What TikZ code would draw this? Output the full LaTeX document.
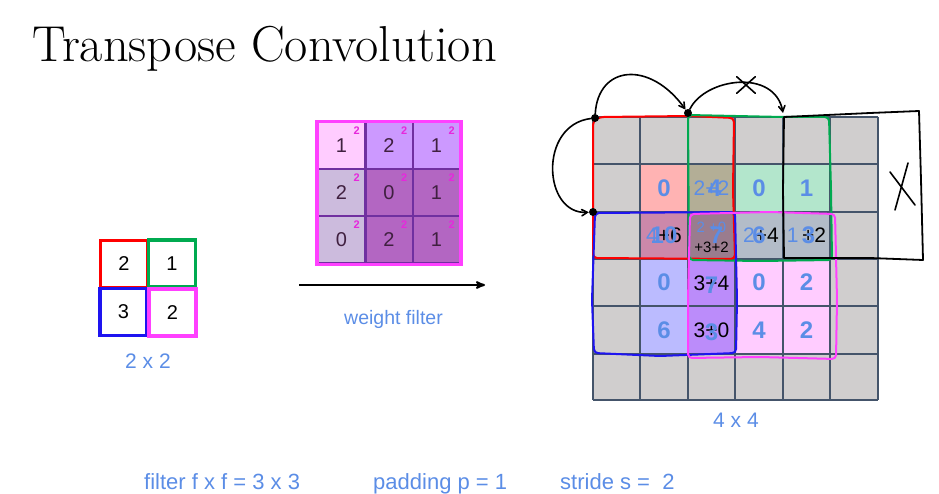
\documentclass[tikz,border=0pt]{standalone}
\usepackage{fontspec}
\setsansfont{Liberation Sans}
\usepackage{xcolor}
\usepackage{tikz}
\usetikzlibrary{shapes, arrows}

\definecolor{slideblue}{RGB}{91,141,230}
\definecolor{gridline}{RGB}{68,84,106}
\definecolor{cellgrey}{RGB}{208,206,206}
\definecolor{cellsalmon}{RGB}{255,179,179}
\definecolor{cellolive}{RGB}{179,174,150}
\definecolor{cellmint}{RGB}{179,230,204}
\definecolor{cellmauve}{RGB}{204,136,170}
\definecolor{cellplum}{RGB}{154,124,142}
\definecolor{cellsteel}{RGB}{179,188,200}
\definecolor{celllavender}{RGB}{187,187,255}
\definecolor{cellviolet}{RGB}{187,140,250}
\definecolor{cellblush}{RGB}{255,204,255}
\definecolor{filterlilac}{RGB}{204,153,255}
\definecolor{filterheather}{RGB}{204,187,221}
\definecolor{filterorchid}{RGB}{179,102,194}
\definecolor{filterline}{RGB}{112,48,160}
\definecolor{filterdigit}{RGB}{64,32,64}
\definecolor{penred}{RGB}{255,0,0}
\definecolor{pengreen}{RGB}{0,170,80}
\definecolor{penblue}{RGB}{30,20,240}
\definecolor{penpink}{RGB}{255,64,255}
\definecolor{supink}{RGB}{230,40,220}

\begin{document}
\begin{tikzpicture}[x=1pt,y=-1pt,>=stealth',
      in node/.style={rectangle,draw,line width=3.3pt,minimum size=47pt,inner sep=0pt,
        font=\sffamily\fontsize{20}{20}\selectfont},
      sup node/.style={anchor=north east,xshift=-5pt,yshift=-4pt,inner sep=1pt,
        text=supink,font=\sffamily\bfseries\fontsize{11}{11}\selectfont},
      filter node/.style={rectangle,draw=filterline,line width=2pt,minimum size=47pt,inner sep=0pt,
        text=filterdigit,font=\sffamily\fontsize{20}{20}\selectfont,label={[sup node]north east:2}},
      grid node/.style={rectangle,minimum width=47.5pt,minimum height=47.3pt,inner sep=0pt},
      big num/.style={font=\sffamily\bfseries\fontsize{24}{24}\selectfont,text=slideblue,inner sep=0pt},
      sum num/.style={font=\sffamily\fontsize{21}{21}\selectfont,inner sep=0pt},
      small num/.style={font=\sffamily\fontsize{15}{15}\selectfont,inner sep=0pt},
      caption/.style={font=\sffamily\fontsize{21}{21}\selectfont,text=slideblue,anchor=base,inner sep=0pt},
      pen/.style={line width=2pt,rounded corners=4pt,line join=round},
      ink/.style={line width=1.6pt,line cap=round},
      dot/.style={circle,fill,inner sep=0pt,minimum size=8pt}]
    \useasboundingbox (0,0) rectangle (939,494);

    \node[anchor=base west,inner sep=0pt,font=\fontsize{50.5}{50.5}\selectfont] (title) at (32,62) {Transpose Convolution};

    % input 2 x 2
    \node[in node,draw=penred] (i1) at (124,264) {2};
    \node[in node,draw=pengreen] (i2) at (172,263.5) {1};
    \node[in node,draw=penblue] (i3) at (123.5,312) {3};
    \node[in node,draw=penpink] (i4) at (172.5,312.5) {2};
    \node[caption] (insize) at (148,368) {2 x 2};

    % filter 3 x 3
    \node[filter node,fill=cellblush] (f1) at (341.5,146) {1};
    \node[filter node,fill=filterlilac] (f2) at (389,146) {2};
    \node[filter node,fill=filterlilac] (f3) at (436.5,146) {1};
    \node[filter node,fill=filterheather] (f4) at (341.5,193) {2};
    \node[filter node,fill=filterorchid] (f5) at (389,193) {0};
    \node[filter node,fill=filterorchid] (f6) at (436.5,193) {1};
    \node[filter node,fill=filterheather] (f7) at (341.5,240) {0};
    \node[filter node,fill=filterorchid] (f8) at (389,240) {2};
    \node[filter node,fill=filterorchid] (f9) at (436.5,240) {1};
    \draw[penpink,line width=3.5pt] (f1.north west) rectangle (f9.south east);

    \coordinate (wf start) at (299,285);
    \coordinate (wf end) at (485,285);
    \draw[->,line width=2pt] (wf start) -- (wf end);
    \node[caption,font=\sffamily\fontsize{19.5}{19.5}\selectfont] (wf label) at (393.5,324) {weight filter};

    % output grid
    \fill[cellgrey] (592.7,117) rectangle (877.7,400);
    \node[grid node,fill=cellsalmon] (g11) at (664,188) {};
    \node[grid node,fill=cellolive] (g12) at (711.5,188) {};
    \node[grid node,fill=cellmint] (g13) at (759,188) {};
    \node[grid node,fill=cellmint] (g14) at (806.5,188) {};
    \node[grid node,fill=cellmauve] (g21) at (664,235.3) {};
    \node[grid node,fill=cellplum] (g22) at (711.5,235.3) {};
    \node[grid node,fill=cellsteel] (g23) at (759,235.3) {};
    \node[grid node,fill=cellsteel] (g24) at (806.5,235.3) {};
    \node[grid node,fill=celllavender] (g31) at (664,282.6) {};
    \node[grid node,fill=cellviolet] (g32) at (711.5,282.6) {};
    \node[grid node,fill=cellblush] (g33) at (759,282.6) {};
    \node[grid node,fill=cellblush] (g34) at (806.5,282.6) {};
    \node[grid node,fill=celllavender] (g41) at (664,329.9) {};
    \node[grid node,fill=cellviolet] (g42) at (711.5,329.9) {};
    \node[grid node,fill=cellblush] (g43) at (759,329.9) {};
    \node[grid node,fill=cellblush] (g44) at (806.5,329.9) {};
    \foreach \gx in {592.7,640.2,687.7,735.2,782.7,830.2,877.7}
      \draw[gridline,line width=2pt] (\gx,117) -- (\gx,400);
    \foreach \gy in {117,164.3,211.6,258.9,306.2,353.5,400}
      \draw[gridline,line width=2pt] (592.7,\gy) -- (877.7,\gy);

    % hand drawn windows
    \draw[pen,penred] (593,258) -- (593,121) -- (600,117) -- (690,116) -- (734,118)
      -- (733,190) -- (735,259) -- cycle;
    \draw[pen,pengreen] (688,115) -- (783,117) -- (829,117) -- (831,190) -- (832,260)
      -- (760,261) -- (689,260) -- cycle;
    \draw[pen,penblue] (595,213) -- (735,212) -- (737,300) -- (736,353) -- (660,356)
      -- (594,353) -- (592,300) -- cycle;
    \draw[pen,penpink] (690,214) -- (770,212) -- (835,214) -- (837,300) -- (836,359)
      -- (760,357) -- (688,358) -- (688,300) -- cycle;
    \draw[ink,line width=1.8pt,line join=round] (784,117) -- (870,113) -- (919,111) -- (921,180)
      -- (923,260) -- (870,258) -- (784,258) -- (783,190) -- cycle;
    \draw[ink] (890,172) -- (915,205);
    \draw[ink] (908,163) -- (895,210);

    \node[dot] (d1) at (595,118) {};
    \node[dot] (d2) at (688,113) {};
    \node[dot] (d3) at (593,212) {};
    \coordinate (t2) at (783,113);
    \draw[ink,-angle 60] (d1) .. controls (598,65) and (650,60) .. (d2);
    \draw[ink,-angle 60] (d2) .. controls (705,78) and (775,68) .. (t2);
    \draw[ink,-angle 60] (d1) .. controls (538,125) and (543,215) .. (d3);
    \node[cross out,draw,ink,minimum width=17pt,minimum height=15pt,inner sep=0pt] (no jump) at (746,85) {};

    % sums
    \node[big num] (n11) at (g11) {0};
    \node[sum num,text=slideblue] (s12) at (g12) {2+2};
    \node[big num] (n12) at ([xshift=3pt]g12) {4};
    \node[big num] (n13) at (g13) {0};
    \node[big num] (n14) at (g14) {1};
    \node[sum num] (s21) at (g21) {\textcolor{slideblue}{4}+6};
    \node[big num] (n21) at (g21) {10};
    \node[small num,text=slideblue] (s22a) at ([yshift=8pt]g22) {2 +0};
    \node[small num] (s22b) at ([yshift=-12pt]g22) {+3+2};
    \node[big num] (n22) at ([xshift=5pt]g22) {7};
    \node[sum num] (s23) at ([xshift=2pt]g23) {\textcolor{slideblue}{2}+4};
    \node[big num] (n23) at (g23) {6};
    \node[sum num] (s24) at (g24) {\textcolor{slideblue}{1}\,+2};
    \node[big num] (n24) at ([xshift=2pt]g24) {3};
    \node[big num] (n31) at (g31) {0};
    \node[sum num] (s32) at ([yshift=-1pt]g32) {3+4};
    \node[big num] (n32) at ([yshift=-3pt]g32) {7};
    \node[big num] (n33) at (g33) {0};
    \node[big num] (n34) at (g34) {2};
    \node[big num] (n41) at (g41) {6};
    \node[sum num] (s42) at (g42) {3+0};
    \node[big num] (n42) at ([yshift=-2pt]g42) {3};
    \node[big num] (n43) at (g43) {4};
    \node[big num] (n44) at (g44) {2};
    \node[caption] (outsize) at (736,427) {4 x 4};

    \node[caption,anchor=base west,font=\sffamily\fontsize{22}{22}\selectfont] (fsize) at (144,489) {filter f x f = 3 x 3};
    \node[caption,anchor=base west,font=\sffamily\fontsize{22}{22}\selectfont] (pad) at (373,489) {padding p = 1};
    \node[caption,anchor=base west,font=\sffamily\fontsize{22}{22}\selectfont] (stride) at (560,489) {stride s =\ \ 2};
\end{tikzpicture}
\end{document}
